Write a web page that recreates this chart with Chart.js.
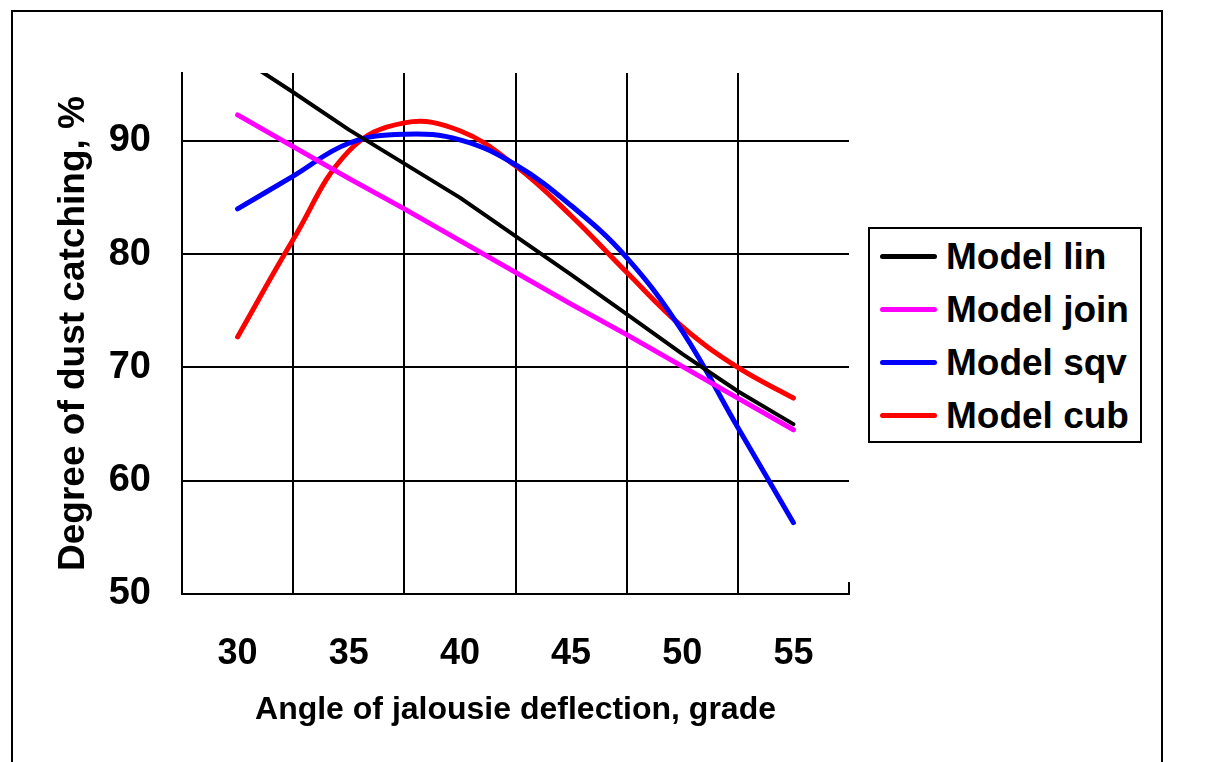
<!DOCTYPE html>
<html>
<head>
<meta charset="utf-8">
<title>Degree of dust catching</title>
<script src="https://cdn.jsdelivr.net/npm/chart.js@4.4.1/dist/chart.umd.min.js"></script>
<style>
  html, body { margin: 0; padding: 0; background: #fff; overflow: hidden; }
  #wrap { position: relative; width: 1206px; height: 762px; }
  #frame { position: absolute; left: 11px; top: 10px; width: 1152px; height: 800px;
           border: 2px solid #000; box-sizing: border-box; }
  #chart { position: absolute; left: 0; top: 0; }
  #legend { position: absolute; left: 868px; top: 227px; width: 274px; height: 216px;
            border: 2px solid #000; box-sizing: border-box; background: #fff;
            font: bold 37px "Liberation Sans", Arial, sans-serif; color: #000; }
  .item { position: absolute; left: 0; height: 53px; display: flex; align-items: center; white-space: nowrap; }
  .swatch { width: 57px; height: 5px; border-radius: 3px; margin-left: 10px; margin-right: 9px; }
</style>
</head>
<body>
<div id="wrap">
  <div id="frame"></div>
  <canvas id="chart" width="1206" height="762"></canvas>
  <div id="legend"></div>
</div>
<script>
// angle of jalousie deflection, grade
const angles = [30, 32.5, 35, 37.5, 40, 42.5, 45, 47.5, 50, 52.5, 55];

// degree of dust catching, %
const modelLin  = [97.5, 94.3, 91.0, 88.0, 85.0, 81.6, 78.2, 74.7, 71.2, 67.9, 65.0];
const modelJoin = [92.3, 89.5, 86.7, 84.0, 81.2, 78.4, 75.6, 72.9, 70.1, 67.3, 64.5];
const modelSqv  = [84.0, 86.9, 89.8, 90.6, 90.1, 87.9, 84.3, 79.7, 73.2, 64.7, 56.3];
const modelCub  = [72.7, 81.3, 89.1, 91.6, 90.9, 87.8, 83.4, 78.4, 73.6, 70.0, 67.3];

const seriesNames = ['Model lin', 'Model join', 'Model sqv', 'Model cub'];
const seriesColors = ['#000000', '#ff00ff', '#0000ff', '#ff0000'];

// tick labels and the grid cell borders between them
const xLabels = [30, 35, 40, 45, 50, 55];
const xBounds = [27.5, 32.5, 37.5, 42.5, 47.5, 52.5, 57.5];
const yLabels = [50, 60, 70, 80, 90];

const FONT = '"Liberation Sans", Arial, sans-serif';
Chart.defaults.font.family = FONT;
Chart.defaults.color = '#000';

const toPoints = vals => vals.map((v, i) => ({ x: angles[i], y: v }));

const makeSet = (idx, values, tension, width) => ({
    label: seriesNames[idx],
    data: toPoints(values),
    borderColor: seriesColors[idx],
    backgroundColor: seriesColors[idx],
    borderWidth: width,
    borderCapStyle: 'round',
    borderJoinStyle: 'round',
    pointRadius: 0,
    fill: false,
    tension
});

// little closing tick at the right end of the x axis
const endTick = {
    id: 'endTick',
    afterDraw(chart) {
        const { ctx, chartArea, scales } = chart;
        const px = scales.x.getPixelForValue(xBounds[xBounds.length - 1]);
        ctx.save();
        ctx.strokeStyle = '#000';
        ctx.lineWidth = 2;
        ctx.beginPath();
        ctx.moveTo(px, chartArea.bottom);
        ctx.lineTo(px, chartArea.bottom - 12);
        ctx.stroke();
        ctx.restore();
    }
};

const ctx = document.getElementById('chart').getContext('2d');
const chart = new Chart(ctx, {
    type: 'line',
    data: {
        datasets: [
            makeSet(0, modelLin, 0, 4),
            makeSet(1, modelJoin, 0, 5),
            makeSet(2, modelSqv, 0.4, 5),
            makeSet(3, modelCub, 0.4, 5)
        ]
    },
    options: {
        responsive: false,
        animation: false,
        layout: { padding: { top: 73, right: 357, left: 0, bottom: 0 } },
        plugins: {
            legend: { display: false },
            tooltip: { enabled: false }
        },
        scales: {
            x: {
                type: 'linear',
                min: xBounds[0],
                max: xBounds[xBounds.length - 1],
                afterBuildTicks: s => {
                    s.ticks = [...xBounds, ...xLabels].sort((a, b) => a - b).map(v => ({ value: v }));
                },
                afterFit: s => { s.height = 168; },
                grid: {
                    color: c => {
                        const v = c.tick && c.tick.value;
                        const inner = xBounds.includes(v) && v > xBounds[0] && v < xBounds[xBounds.length - 1];
                        return inner ? '#000' : 'rgba(0,0,0,0)';
                    },
                    lineWidth: 2,
                    drawTicks: false
                },
                border: { display: true, color: '#000', width: 2 },
                ticks: {
                    autoSkip: false,
                    maxRotation: 0,
                    padding: 38,
                    color: '#000',
                    font: { size: 36, weight: 'bold' },
                    callback: v => xLabels.includes(v) ? String(v) : ''
                },
                title: {
                    display: true,
                    text: 'Angle of jalousie deflection, grade',
                    color: '#000',
                    font: { size: 32, weight: 'bold' },
                    padding: { top: 0, bottom: 33 }
                }
            },
            y: {
                type: 'linear',
                min: 50,
                max: 96,
                afterBuildTicks: s => { s.ticks = yLabels.map(v => ({ value: v })); },
                afterFit: s => { s.width = 182; },
                grid: { color: '#000', lineWidth: 2, drawTicks: false },
                border: { display: true, color: '#000', width: 2 },
                ticks: {
                    padding: 31,
                    color: '#000',
                    font: { size: 38, weight: 'bold' }
                },
                title: {
                    display: true,
                    text: 'Degree of dust catching, %',
                    color: '#000',
                    font: { size: 37, weight: 'bold' },
                    padding: { top: 52, bottom: 0 }
                }
            }
        }
    },
    plugins: [endTick]
});

// boxed legend at the right, built from the datasets
const legendBox = document.getElementById('legend');
chart.data.datasets.forEach((ds, i) => {
    const item = document.createElement('div');
    item.className = 'item';
    item.style.top = (1 + 53 * i) + 'px';
    const sw = document.createElement('span');
    sw.className = 'swatch';
    sw.style.background = ds.borderColor;
    const txt = document.createElement('span');
    txt.textContent = ds.label;
    item.appendChild(sw);
    item.appendChild(txt);
    legendBox.appendChild(item);
});
</script>
</body>
</html>
